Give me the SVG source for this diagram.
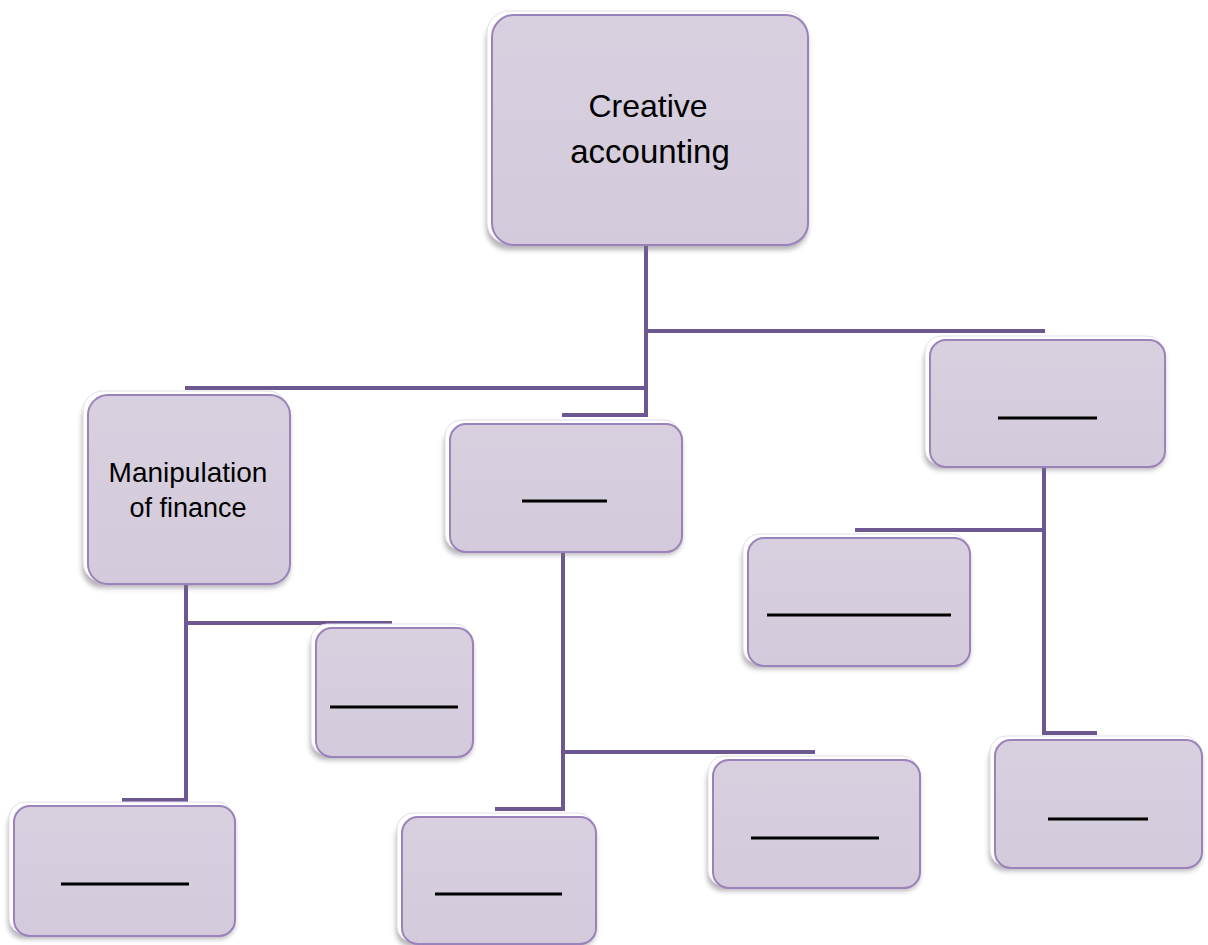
<svg xmlns="http://www.w3.org/2000/svg" width="1208" height="945" viewBox="0 0 1208 945">
<defs>
<filter id="sh" x="-10%" y="-10%" width="120%" height="125%">
<feGaussianBlur stdDeviation="2.5"/>
</filter>
<linearGradient id="gf" x1="0" y1="0" x2="0" y2="1">
<stop offset="0" stop-color="#d8d0df"/>
<stop offset="1" stop-color="#d3cbdb"/>
</linearGradient>
</defs>
<style>
.shadow{fill:#7a7680;opacity:0.55;filter:url(#sh)}
.hl{fill:#ffffff;stroke:#e2dde8;stroke-width:1}
.box{fill:url(#gf);stroke:#9a82bb;stroke-width:2}
.con{stroke:#6c5791;stroke-width:4;fill:none}
.blank{stroke:#000000;stroke-width:3}
.t{font-family:"Liberation Sans",Arial,sans-serif;fill:#000000;text-anchor:middle}
</style>
<rect width="1208" height="945" fill="#ffffff"/>
<g id="connectors">
<path class="con" d="M646 246 V415 H562"/>
<path class="con" d="M646 331 H1045"/>
<path class="con" d="M646 388 H185"/>
<path class="con" d="M186 585 V800 H122"/>
<path class="con" d="M186 623 H392"/>
<path class="con" d="M563 552 V809 H495"/>
<path class="con" d="M563 752 H815"/>
<path class="con" d="M1044 467 V733 H1097"/>
<path class="con" d="M1044 530 H855"/>
</g>
<g id="root">
<rect class="shadow" x="486" y="19" width="322" height="231" rx="22"/>
<rect class="hl" x="487" y="11" width="320" height="233" rx="22"/>
<rect class="box" x="492" y="15" width="316" height="230" rx="22"/>
<text class="t" x="648" y="117" font-size="32">Creative</text>
<text class="t" x="650" y="163" font-size="33">accounting</text>
</g>
<g id="manipulation">
<rect class="shadow" x="82" y="399" width="208" height="189" rx="20"/>
<rect class="hl" x="83" y="391" width="205" height="191" rx="20"/>
<rect class="box" x="88" y="395" width="202" height="189" rx="20"/>
<text class="t" x="188" y="482" font-size="28">Manipulation</text>
<text class="t" x="188" y="517" font-size="27">of finance</text>
</g>
<g id="middle">
<rect class="shadow" x="444" y="428" width="238" height="127" rx="16"/>
<rect class="hl" x="445" y="420" width="235" height="130" rx="16"/>
<rect class="box" x="450" y="424" width="232" height="128" rx="16"/>
<line class="blank" x1="522" y1="501" x2="607" y2="501"/>
</g>
<g id="right">
<rect class="shadow" x="924" y="344" width="241" height="126" rx="16"/>
<rect class="hl" x="925" y="336" width="238" height="129" rx="16"/>
<rect class="box" x="930" y="340" width="235" height="127" rx="16"/>
<line class="blank" x1="998" y1="418" x2="1097" y2="418"/>
</g>
<g id="child-left-1">
<rect class="shadow" x="310" y="632" width="163" height="128" rx="16"/>
<rect class="hl" x="311" y="624" width="160" height="131" rx="16"/>
<rect class="box" x="316" y="628" width="157" height="129" rx="16"/>
<line class="blank" x1="330" y1="707" x2="458" y2="707"/>
</g>
<g id="child-left-2">
<rect class="shadow" x="8" y="810" width="227" height="129" rx="16"/>
<rect class="hl" x="9" y="802" width="224" height="132" rx="16"/>
<rect class="box" x="14" y="806" width="221" height="130" rx="16"/>
<line class="blank" x1="61" y1="884" x2="189" y2="884"/>
</g>
<g id="child-mid-1">
<rect class="shadow" x="707" y="764" width="213" height="127" rx="16"/>
<rect class="hl" x="708" y="756" width="210" height="130" rx="16"/>
<rect class="box" x="713" y="760" width="207" height="128" rx="16"/>
<line class="blank" x1="751" y1="838" x2="879" y2="838"/>
</g>
<g id="child-mid-2">
<rect class="shadow" x="396" y="821" width="200" height="126" rx="16"/>
<rect class="hl" x="397" y="813" width="197" height="129" rx="16"/>
<rect class="box" x="402" y="817" width="194" height="127" rx="16"/>
<line class="blank" x1="435" y1="894" x2="562" y2="894"/>
</g>
<g id="child-right-1">
<rect class="shadow" x="742" y="542" width="228" height="127" rx="16"/>
<rect class="hl" x="743" y="534" width="225" height="130" rx="16"/>
<rect class="box" x="748" y="538" width="222" height="128" rx="16"/>
<line class="blank" x1="767" y1="615" x2="951" y2="615"/>
</g>
<g id="child-right-2">
<rect class="shadow" x="989" y="744" width="213" height="127" rx="16"/>
<rect class="hl" x="990" y="736" width="210" height="130" rx="16"/>
<rect class="box" x="995" y="740" width="207" height="128" rx="16"/>
<line class="blank" x1="1048" y1="819" x2="1148" y2="819"/>
</g>
</svg>
